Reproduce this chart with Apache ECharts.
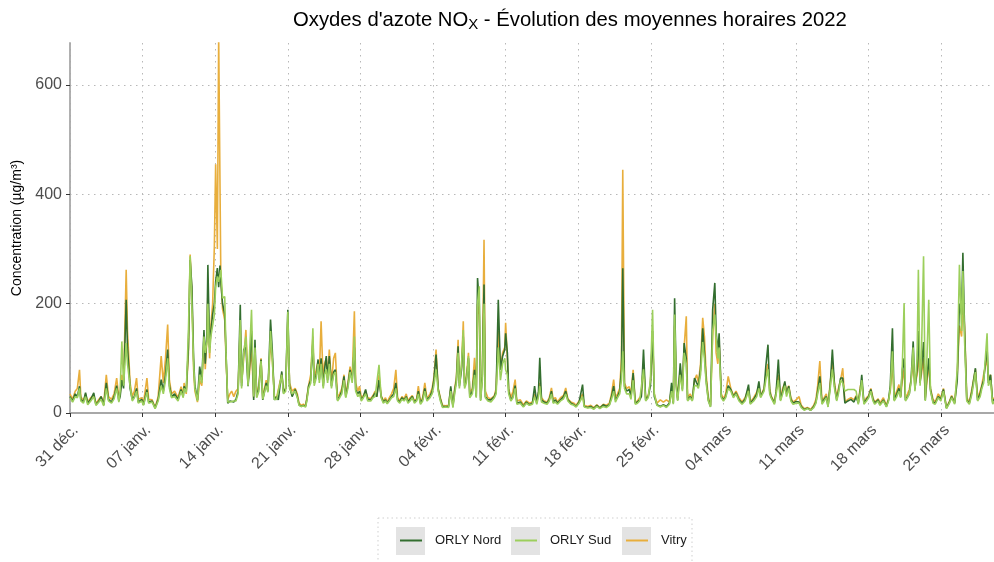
<!DOCTYPE html>
<html><head><meta charset="utf-8">
<script src="https://cdn.jsdelivr.net/npm/echarts@6/dist/echarts.min.js"></script>
<style>html,body{margin:0;padding:0;background:#fff}#c{width:994px;height:562px}</style>
</head><body><div id="c"></div>
<script>
// Week tick labels (x axis, one every 168 h starting 31 déc. 00:00)
const tickLabels = ['31 déc.', '07 janv.', '14 janv.', '21 janv.', '28 janv.', '04 févr.', '11 févr.', '18 févr.', '25 févr.', '04 mars', '11 mars', '18 mars', '25 mars'];
const yTicks = [0, 200, 400, 600];
const seriesNames = ['ORLY Nord', 'ORLY Sud', 'Vitry'];

// Sample times, hours since 31 déc. 2021 00:00
const hours = [
0,6,12,17,22,25,31,36,41,48,55,60,67,72,78,84,89,96,102,108,113,116,120,124,130,133,139,144,149,154,158,166,170,178,182,190,197,204,211,216,221,226,230,235,242,250,257,262,
264,269,274,278,282,286,289,295,300,305,310,313,317,319,323,326,330,334,337,341,344,347,349,353,358,361,365,370,374,379,384,389,394,397,402,407,412,415,420,425,428,432,437,442,446,454,458,464,468,473,478,482,490,494,499,504,508,514,521,526,
530,535,540,545,548,552,557,562,565,570,574,577,581,586,589,593,596,600,605,610,614,619,624,629,634,638,643,648,653,658,661,666,670,674,679,684,689,696,701,706,710,715,720,725,730,734,739,744,749,754,758,763,768,773,778,782,787,792,797,
802,806,811,816,821,826,833,838,842,847,852,857,862,869,876,881,886,890,894,898,901,906,910,913,917,922,925,931,936,940,943,947,950,954,958,961,967,974,982,986,991,996,1001,1006,1008,1012,1015,1020,1025,1030,1034,1042,1049,1056,1063,1070,
1075,1080,1084,1087,1091,1097,1104,1109,1114,1118,1123,1128,1135,1142,1147,1152,1159,1166,1171,1178,1186,1190,1198,1205,1212,1219,1226,1234,1241,1248,1253,1258,1262,1267,1272,1276,1279,1283,1288,1294,1298,1303,1308,1313,1318,1322,1327,1332,
1338,1343,1348,1352,1358,1366,1373,1380,1387,1392,1396,1399,1403,1406,1412,1417,1421,1426,1429,1435,1440,1445,1450,1454,1459,1464,1468,1472,1477,1482,1487,1492,1495,1499,1502,1507,1512,1517,1523,1529,1535,1541,1548,1555,1562,1570,1574,1582,1589,1594,1598,1606,
1610,1615,1619,1622,1630,1634,1639,1644,1649,1654,1658,1663,1668,1673,1680,1687,1692,1699,1706,1714,1721,1726,1730,1735,1740,1745,1750,1754,1759,1764,1769,1774,1778,1783,1788,1793,1800,1807,1814,1819,1824,1829,1832,1837,1843,1848,1853,1858,1862,1870,
1874,1882,1889,1894,1898,1903,1907,1913,1918,1922,1926,1930,1933,1938,1942,1946,1951,1955,1960,1963,1967,1970,1975,1979,1982,1987,1991,1997,2002,2009,2015,2021,2028,2035,2040,2047,2053,2058,2063,2066,2070,2075,2081,2087,2095,2100,2106,2110,2114,2122,2125,2130,2135,2138
];

const orlyNord = [
30,22,35,30,49,25,20,37,18,25, 37,15,22,30,15,55,25,20,30,50, 22,30,60,45,207,120,45,25,30,45, 20,25,15,43,20,22,9,25,61,40, 70,116,50,30,35,25,43,30,
49,40,120,280,232,100,50,24,85,61, 152,90,150,271,120,150,180,200,240,265, 230,270,240,200,180,110,18,22,25,20, 25,40,198,49,116,120,49,80,150,24, 134,30,45,98,24,55,40,171,116,24, 30,24,76,37,45,189,49,30,43,30,
15,12,14,12,25,49,60,130,55,70, 98,61,100,49,80,104,60,104,49,75, 79,24,30,40,67,30,50,79,60,120, 43,35,40,24,30,43,25,24,30,37, 30,60,30,20,24,18,24,30,35,55, 24,20,28,24,30,20,25,30,20,
24,40,18,25,45,24,30,40,60,107, 43,25,12,12,12,49,12,40,60,122, 49,80,140,49,60,100,30,40,79,30, 247,200,24,67,235,30,24,24,30,40, 207,79,104,116,146,110,40,24,30,50, 18,20,12,20,15,18,
49,18,40,101,24,20,18,25,40,20, 24,18,24,30,40,24,18,15,12,20, 52,12,10,12,8,14,9,15,12,15, 30,49,24,30,40,80,265,49,40,43, 30,73,18,20,24,30,116,24,
30,50,150,30,15,12,15,12,18,55, 18,210,49,24,91,43,128,100,24,30, 24,64,55,49,80,155,110,60,24,12, 189,238,150,110,146,30,24,30,50,43, 30,37,24,18,25,52,18,25,35,58, 30,43,
85,125,40,30,18,40,98,24,40,58, 35,49,25,18,21,20,12,6,9,5, 12,20,40,67,18,25,30,12,50,116, 49,24,40,64,64,18,22,25,20,30, 18,45,70,18,25,30,43,25,18,24,
15,24,12,24,50,155,24,35,45,30, 80,100,24,30,35,60,131,43,80,150, 55,80,130,24,60,100,43,20,18,30, 25,43,9,20,30,18,60,200,180,293, 150,24,18,40,82,24,35,49,60,120, 55,70,18,25
];

const orlySud = [
28,20,30,28,45,22,18,30,15,22, 30,14,20,25,13,45,22,18,26,45, 20,40,131,50,128,90,49,22,28,40, 18,22,14,38,18,20,8,22,50,35, 60,100,45,28,30,22,40,28,
45,38,150,287,200,90,45,22,70,55, 140,110,130,200,110,140,160,180,230,250, 240,240,262,210,213,110,20,20,22,22, 22,35,170,45,110,140,50,100,189,30, 120,28,40,95,25,50,38,150,100,25, 25,22,70,35,40,185,45,35,40,28,
14,12,13,11,22,45,55,155,50,65, 90,55,90,45,70,80,55,90,45,70, 75,22,28,35,60,28,45,75,55,140, 40,30,35,22,28,35,22,22,28,30, 28,88,28,18,22,17,22,28,30,45, 22,18,25,22,28,18,22,28,18,
22,35,16,22,40,22,28,35,50,80, 40,22,10,11,10,40,10,35,55,110, 45,90,152,45,55,104,28,35,70,28, 200,232,22,60,200,28,22,20,28,35, 120,60,90,100,79,70,35,22,28,45, 16,18,11,18,14,16,
30,16,30,49,20,18,16,22,35,18, 20,16,22,26,35,22,16,14,11,18, 30,11,9,10,7,12,8,12,10,14, 25,40,20,28,35,60,113,45,35,35, 25,60,16,18,22,25,80,22,
28,60,189,35,14,11,14,10,16,40, 16,180,45,22,70,40,110,90,22,28, 22,50,50,45,70,130,100,55,22,11, 150,180,140,100,120,28,22,28,45,40, 28,35,22,16,22,40,16,22,30,45, 28,40,
60,80,35,28,16,35,60,22,35,50, 30,45,22,16,18,18,10,5,8,5, 10,18,35,55,16,22,28,11,45,80, 45,22,35,60,55,40,43,43,43,40, 16,40,60,16,22,28,40,22,16,22,
14,22,11,22,45,113,22,30,40,28, 90,201,22,28,35,55,120,40,100,262, 50,100,287,22,80,207,40,18,16,28, 22,40,8,18,28,16,80,271,150,260, 130,22,16,35,75,22,30,45,55,146, 50,60,16,22
];

const vitry = [
35,25,40,45,79,30,22,35,20,28, 32,18,25,30,18,70,30,25,35,64, 28,35,70,55,262,150,55,30,40,64, 25,28,18,64,25,24,10,30,104,55, 100,162,60,35,40,28,48,35,
55,35,110,290,220,80,40,20,60,50, 130,80,140,220,100,160,200,305,455,300, 690,690,250,190,170,100,25,35,40,30, 40,45,160,55,100,152,60,70,120,28, 110,35,50,100,28,60,45,130,100,30, 28,30,72,40,45,170,55,40,45,35,
18,14,16,13,28,50,70,140,60,80, 95,70,168,55,90,100,65,116,55,100, 110,28,35,45,70,35,55,85,65,186, 55,40,49,28,32,40,28,26,32,40, 30,70,32,22,28,20,28,35,45,79, 28,22,30,26,35,22,28,32,22,
26,49,20,28,55,26,35,45,65,116, 45,28,14,13,14,45,14,45,65,134, 55,85,168,55,65,110,35,45,101,35, 200,180,28,70,317,40,28,26,32,45, 150,80,110,120,165,100,45,28,40,61, 22,24,15,22,18,20,
35,20,35,55,28,22,20,28,46,25, 28,20,28,32,46,26,20,18,14,22, 35,14,12,14,10,15,10,16,14,18, 35,61,28,35,45,100,445,55,45,48, 35,79,20,22,28,32,90,28,
32,55,140,35,18,24,20,24,20,45, 20,160,55,28,80,50,120,177,28,35, 26,60,70,55,90,174,140,70,28,14, 140,200,110,90,130,35,26,35,67,45, 32,40,28,20,28,45,20,28,38,50, 32,45,
70,90,45,32,20,40,70,28,45,55, 40,50,28,20,24,30,14,8,10,7, 14,25,50,95,22,28,35,15,55,90, 55,28,45,60,82,20,25,28,24,32, 20,50,55,20,28,32,45,28,20,26,
18,28,14,26,40,90,28,40,52,30, 60,80,28,35,43,60,90,50,70,110, 60,70,100,28,50,90,45,25,20,35, 28,45,10,22,32,20,70,160,140,200, 159,28,20,45,80,28,40,52,70,100, 60,70,20,28
];

if (orlyNord.length !== hours.length || orlySud.length !== hours.length || vitry.length !== hours.length) {
  throw new Error('length mismatch ' + hours.length + ' ' + orlyNord.length + ' ' + orlySud.length + ' ' + vitry.length);
}

const colors = { 'ORLY Nord': '#336e2f', 'ORLY Sud': '#9ccf5c', 'Vitry': '#e8ae3c' };
const pairs = arr => hours.map((h, i) => [h, arr[i]]);
const FONT = 'Liberation Sans, Arial, sans-serif';
const weekTicks = tickLabels.map((_, i) => i * 168);

const chart = echarts.init(document.getElementById('c'), null, { renderer: 'canvas' });

function mkLegend(name, left) {
  return {
    data: [name], left: left, top: 534, orient: 'horizontal', padding: 0,
    icon: 'rect', itemWidth: 22, itemHeight: 2,
    selectedMode: false,
    textStyle: { fontFamily: FONT, fontSize: 13, color: '#1a1a1a', padding: [0, 0, 0, 8] }
  };
}

const gridDash = { color: '#b8b8b8', width: 1, type: [1.5, 4.5] };

chart.setOption({
  animation: false,
  backgroundColor: '#ffffff',
  title: {
    text: "Oxydes d'azote NO{sub|X} - Évolution des moyennes horaires 2022",
    left: 293, top: 8, padding: 0,
    textStyle: {
      fontFamily: FONT, fontSize: 20.3, fontWeight: 'normal', color: '#000', lineHeight: 24,
      rich: { sub: { fontFamily: FONT, fontSize: 15, lineHeight: 14, verticalAlign: 'bottom', color: '#000' } }
    }
  },
  legend: [mkLegend('ORLY Nord', 400), mkLegend('ORLY Sud', 515), mkLegend('Vitry', 626)],
  graphic: [
    { type: 'rect', shape: { x: 378, y: 518, width: 314, height: 60 }, style: { fill: '#fff', stroke: '#cfcfcf', lineWidth: 1, lineDash: [1.5, 3] }, z: -10 },
    { type: 'rect', shape: { x: 396, y: 527, width: 29, height: 28 }, style: { fill: '#e3e3e3' }, z: -5 },
    { type: 'rect', shape: { x: 511, y: 527, width: 29, height: 28 }, style: { fill: '#e3e3e3' }, z: -5 },
    { type: 'rect', shape: { x: 622, y: 527, width: 29, height: 28 }, style: { fill: '#e3e3e3' }, z: -5 }
  ],
  grid: { left: 70, right: 0, top: 43, bottom: 149, containLabel: false },
  xAxis: {
    type: 'value', min: 0, max: 2138, interval: 168,
    axisLine: { show: true, onZero: false, lineStyle: { color: '#a8a8a8', width: 1.8 } },
    axisTick: { show: true, length: 4, lineStyle: { color: '#333', width: 1 }, customValues: weekTicks },
    axisLabel: {
      customValues: weekTicks, rotate: 45, margin: 9, align: 'right', verticalAlign: 'top',
      fontFamily: FONT, fontSize: 16, color: '#4d4d4d',
      formatter: v => tickLabels[Math.round(v / 168)] || ''
    },
    splitLine: { show: true, lineStyle: gridDash }
  },
  yAxis: {
    type: 'value', min: 0, max: 677, interval: 200,
    name: 'Concentration (µg/m³)', nameLocation: 'middle', nameGap: 38, nameRotate: 90,
    nameTextStyle: { fontFamily: FONT, fontSize: 14, color: '#000' },
    axisLine: { show: true, lineStyle: { color: '#a8a8a8', width: 1.8 } },
    axisTick: { show: true, length: 4, lineStyle: { color: '#333', width: 1 }, customValues: yTicks },
    axisLabel: { customValues: yTicks, margin: 8, fontFamily: FONT, fontSize: 16, color: '#4d4d4d' },
    splitLine: { show: true, lineStyle: gridDash }
  },
  series: ['Vitry', 'ORLY Nord', 'ORLY Sud'].map(name => ({
    name: name, type: 'line', symbol: 'none', showSymbol: false,
    data: pairs(name === 'Vitry' ? vitry : name === 'ORLY Nord' ? orlyNord : orlySud),
    lineStyle: { color: colors[name], width: 1.6 },
    itemStyle: { color: colors[name] },
    emphasis: { disabled: true },
    clip: true
  }))
});
</script></body></html>
